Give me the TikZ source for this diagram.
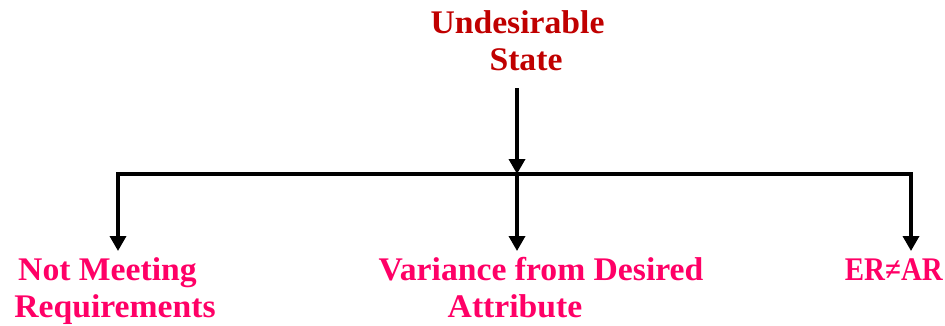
\documentclass[tikz,border=0pt]{standalone}
\usepackage{fontspec}
\setmainfont{Liberation Serif}[FakeStretch=1.02]
\usetikzlibrary{arrows.meta}
\definecolor{darkred}{RGB}{192,0,0}
\definecolor{pinkish}{RGB}{255,0,102}
\tikzset{
  lbl/.style={anchor=base, inner sep=0pt, font=\fontsize{33}{37}\selectfont\bfseries},
  ttl/.style={lbl, text=darkred},
  res/.style={lbl, text=pinkish},
  conn/.style={line width=3.5pt, line cap=rect},
  arr/.style={line width=3.5pt, -{Triangle[width=16pt,length=15pt]}}
}
\begin{document}
\begin{tikzpicture}[x=1pt,y=-1pt]
\useasboundingbox (0,0) rectangle (945,325);
\node[ttl] (t1) at (517.5,33) {Undesirable};
\node[ttl] (t2) at (526,70) {State};
\coordinate (top) at (517,88);
\coordinate (jl) at (118,174);
\coordinate (jm) at (517,174);
\coordinate (jr) at (911,174);
\coordinate (el) at (118,251);
\coordinate (em) at (517,251);
\coordinate (er) at (911,251);
\node[res] (a1) at (107.5,280) {Not Meeting};
\node[res] (a2) at (115,317) {Requirements};
\node[res] (b1) at (541,280) {Variance from Desired};
\node[res] (b2) at (515,317) {Attribute};
\node[res, anchor=base east] (c1) at (943,280) {\scalebox{0.86}[1]{ER≠AR}};
\draw[arr] (top) -- (jm);
\draw[conn] (jl) -- (jr);
\draw[arr] (jl) -- (el);
\draw[arr] (jm) -- (em);
\draw[arr] (jr) -- (er);
\end{tikzpicture}
\end{document}
